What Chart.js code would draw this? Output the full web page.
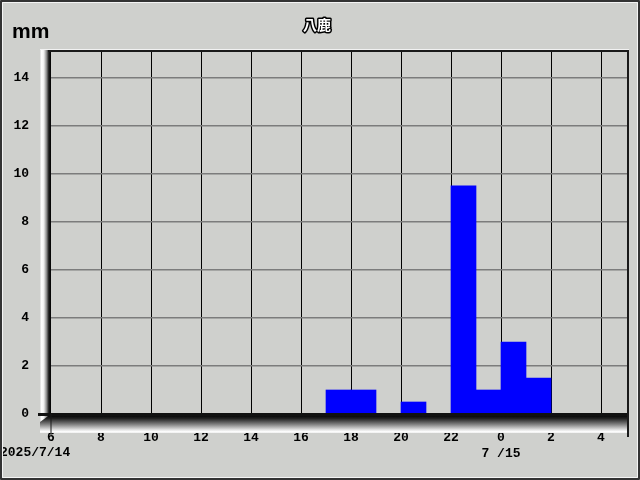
<!DOCTYPE html>
<html>
<head>
<meta charset="utf-8">
<script src="https://cdn.jsdelivr.net/npm/chart.js@4/dist/chart.umd.min.js"></script>
<style>
  html, body { margin: 0; padding: 0; background: #cfd0cd; }
  #wrap { width: 640px; height: 480px; }
</style>
</head>
<body>
<div id="wrap"><canvas id="grafica" width="640" height="480"></canvas></div>
<script>
// ── Datos ────────────────────────────────────────────────────────────────
const ESTACION    = "八鹿";
const UNIDAD      = "mm";
const FECHA_INI   = "2025/7/14";
const FECHA_SIG   = "7 /15";
const HORA_INICIO = 6;
// lluvia por hora desde las 6:00 del 14 hasta las 4:00 del 15
const LLUVIA   = [0, 0, 0, 0, 0, 0, 0, 0, 0, 0, 0, 1.0, 1.0, 0, 0.5, 0, 9.5, 1.0, 3.0, 1.5, 0, 0, 0];
const Y_TICKS  = [0, 2, 4, 6, 8, 10, 12, 14];
const X_TICKS  = [6, 8, 10, 12, 14, 16, 18, 20, 22, 24, 26, 28];

const FONDO = "#cfd0cd";
const MONO  = "bold 13px 'Liberation Mono', 'DejaVu Sans Mono', monospace";

// ── Marco 3D y textos ────────────────────────────────────────────────────
const marco = {
  id: "marco",
  beforeDraw(chart) {
    const { ctx, width, height } = chart;
    ctx.save();
    ctx.fillStyle = FONDO;
    ctx.fillRect(0, 0, width, height);
    ctx.restore();
  },
  afterDraw(chart) {
    const { ctx, chartArea: a, width, height } = chart;
    const L = a.left, R = a.right, T = a.top, B = a.bottom;
    ctx.save();

    // pared izquierda
    let g = ctx.createLinearGradient(L - 11, 0, L, 0);
    g.addColorStop(0, "#d8d8d8");
    g.addColorStop(0.15, "#ffffff");
    g.addColorStop(0.35, "#eeeeee");
    g.addColorStop(0.6, "#8a8a8a");
    g.addColorStop(0.8, "#1c1c1c");
    g.addColorStop(1, "#000000");
    ctx.fillStyle = g;
    ctx.fillRect(L - 11, T - 2, 11, B - T + 20);

    // piso
    g = ctx.createLinearGradient(0, B + 1, 0, B + 19);
    g.addColorStop(0, "#000000");
    g.addColorStop(0.2, "#222222");
    g.addColorStop(0.5, "#7a7a7a");
    g.addColorStop(0.8, "#dcdcdc");
    g.addColorStop(0.93, "#ffffff");
    g.addColorStop(1, "#ececec");
    ctx.fillStyle = g;
    ctx.beginPath();
    ctx.moveTo(L, B);
    ctx.lineTo(R, B);
    ctx.lineTo(R, B + 19);
    ctx.lineTo(L - 11, B + 19);
    ctx.lineTo(L - 11, B + 8);
    ctx.closePath();
    ctx.fill();

    // linea base
    ctx.fillStyle = "#111";
    ctx.fillRect(L - 13, B - 1, R - L + 13, 3);

    // borde superior y derecho
    ctx.fillStyle = "#f2f2f2";
    ctx.fillRect(L - 11, T - 3, R - L + 12, 1);
    ctx.fillStyle = "#1a1a1a";
    ctx.fillRect(L - 3, T - 2, R - L + 3, 2);
    ctx.fillRect(R - 1, T - 2, 2, B - T + 25);

    // marca de las 6
    ctx.fillRect(L - 0.5, B, 1, 21);

    // textos
    ctx.fillStyle = "#000";
    ctx.font = "bold 21px 'Liberation Sans', Arial, sans-serif";
    ctx.textAlign = "left";
    ctx.textBaseline = "alphabetic";
    ctx.fillText(UNIDAD, 12, 38);

    ctx.font = MONO;
    ctx.textBaseline = "middle";
    ctx.fillText(FECHA_INI, 0, 453);

    ctx.font = "bold 14px 'Noto Sans CJK JP', sans-serif";
    ctx.textAlign = "center";
    ctx.lineJoin = "round";
    ctx.lineWidth = 3;
    ctx.strokeStyle = "#000";
    ctx.strokeText(ESTACION, 317, 25);
    ctx.fillStyle = "#fff";
    ctx.fillText(ESTACION, 317, 25);

    // marco exterior
    ctx.strokeStyle = "#f4f4f4";
    ctx.lineWidth = 1;
    ctx.strokeRect(2.5, 2.5, width - 5, height - 5);
    ctx.strokeStyle = "#333";
    ctx.lineWidth = 2;
    ctx.strokeRect(1, 1, width - 2, height - 2);
    ctx.restore();
  },
};

// ── Grafica ──────────────────────────────────────────────────────────────
new Chart(document.getElementById("grafica"), {
  type: "bar",
  data: {
    datasets: [{
      data: LLUVIA.map((v, i) => ({ x: HORA_INICIO + i + 0.5, y: v })),
      backgroundColor: "#0000ff",
      borderWidth: 0,
      barPercentage: 1,
      categoryPercentage: 1,
    }],
  },
  options: {
    responsive: false,
    animation: false,
    devicePixelRatio: 1,
    layout: { padding: { top: 52, right: 12, left: 0, bottom: 0 } },
    plugins: { legend: { display: false }, tooltip: { enabled: false } },
    scales: {
      x: {
        type: "linear",
        offset: false,
        min: HORA_INICIO,
        max: HORA_INICIO + 23.08,
        afterFit: (s) => { s.height = 66; },
        afterBuildTicks: (s) => { s.ticks = X_TICKS.map((v) => ({ value: v })); },
        border: { display: false },
        grid: {
          offset: false,
          drawTicks: false,
          color: (c) => (c.tick && c.tick.value === HORA_INICIO ? "rgba(0,0,0,0)" : "#000"),
          lineWidth: 1,
        },
        ticks: {
          padding: 16,
          maxRotation: 0,
          autoSkip: false,
          color: "#000",
          font: { family: "'Liberation Mono', 'DejaVu Sans Mono', monospace", size: 13, weight: "bold" },
          callback: (v) => (v === 24 ? [String(v % 24), FECHA_SIG] : String(v % 24)),
        },
      },
      y: {
        min: 0,
        max: 15.08,
        afterFit: (s) => { s.width = 51; },
        afterBuildTicks: (s) => { s.ticks = Y_TICKS.map((v) => ({ value: v })); },
        border: { display: false },
        grid: {
          drawTicks: false,
          color: (c) => (c.tick && c.tick.value === 0 ? "rgba(0,0,0,0)" : "#7c7c7c"),
          lineWidth: 1.5,
        },
        ticks: {
          padding: 22,
          color: "#000",
          font: { family: "'Liberation Mono', 'DejaVu Sans Mono', monospace", size: 13, weight: "bold" },
        },
      },
    },
  },
  plugins: [marco],
});
</script>
</body>
</html>
